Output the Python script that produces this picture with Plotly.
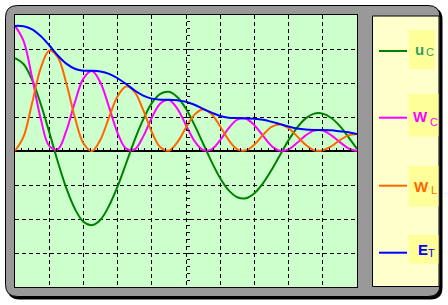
import plotly.graph_objects as go

# ---- data (time axis in grid divisions) ----
t = [0.0, 0.25, 0.5, 0.75, 1.0, 1.25, 1.5, 1.75, 2.0, 2.25, 2.5, 2.75, 3.0, 3.25,
     3.5, 3.75, 4.0, 4.25, 4.5, 4.75, 5.0, 5.25, 5.5, 5.75, 6.0, 6.25, 6.5, 6.75,
     7.0, 7.25, 7.5, 7.75, 8.0, 8.25, 8.5, 8.75, 9.0, 9.25, 9.5, 9.75, 10.0]

u_C = [2.73, 2.56, 2.09, 1.39, 0.56, -0.31, -1.09, -1.70, -2.08, -2.18, -2.02,
       -1.61, -1.04, -0.36, 0.33, 0.93, 1.41, 1.68, 1.74, 1.58, 1.24, 0.76, 0.22,
       -0.32, -0.80, -1.16, -1.36, -1.39, -1.24, -0.95, -0.56, -0.12, 0.32, 0.69,
       0.96, 1.10, 1.10, 0.97, 0.73, 0.41, 0.06]

W_C = [3.68, 3.24, 2.16, 0.96, 0.15, 0.05, 0.59, 1.43, 2.13, 2.35, 2.01, 1.29,
       0.53, 0.07, 0.05, 0.43, 0.98, 1.40, 1.50, 1.24, 0.76, 0.29, 0.03, 0.05,
       0.32, 0.67, 0.92, 0.95, 0.76, 0.45, 0.15, 0.01, 0.05, 0.24, 0.46, 0.60,
       0.60, 0.46, 0.26, 0.08, 0.00]

W_L = [0.00, 0.42, 1.41, 2.43, 2.95, 2.76, 1.99, 0.99, 0.23, 0.00, 0.34, 0.99,
       1.61, 1.90, 1.73, 1.20, 0.56, 0.11, 0.01, 0.26, 0.69, 1.07, 1.22, 1.08,
       0.72, 0.32, 0.05, 0.02, 0.19, 0.47, 0.71, 0.78, 0.67, 0.43, 0.18, 0.02,
       0.02, 0.14, 0.32, 0.46, 0.50]

E_T = [3.68, 3.67, 3.58, 3.38, 3.11, 2.81, 2.57, 2.42, 2.36, 2.36, 2.34, 2.27,
       2.14, 1.97, 1.78, 1.63, 1.54, 1.51, 1.51, 1.49, 1.45, 1.36, 1.24, 1.13,
       1.03, 0.98, 0.97, 0.96, 0.95, 0.92, 0.86, 0.79, 0.72, 0.66, 0.63, 0.62,
       0.62, 0.61, 0.58, 0.55, 0.50]

series = [("u_C", u_C), ("W_C", W_C), ("W_L", W_L), ("E_T", E_T)]
main_labels = ["u", "W", "W", "E"]
sub_labels = ["C", "C", "L", "T"]
colors = ["#008000", "#ff00ff", "#ff6600", "#0000ff"]
text_colors = ["#339966", "#ff00ff", "#ff6600", "#0000ff"]

x_range = [0, 10]
y_range = [-4, 4]

# ---- layout helpers (pixel -> paper) ----
W, H = 448, 305
def X(px):
    return px / W
def Y(py):
    return 1 - py / H

def rrect(x0, y0, x1, y1, r):
    return (f"M{X(x0+r)},{Y(y0)} L{X(x1-r)},{Y(y0)} Q{X(x1)},{Y(y0)} {X(x1)},{Y(y0+r)} "
            f"L{X(x1)},{Y(y1-r)} Q{X(x1)},{Y(y1)} {X(x1-r)},{Y(y1)} "
            f"L{X(x0+r)},{Y(y1)} Q{X(x0)},{Y(y1)} {X(x0)},{Y(y1-r)} "
            f"L{X(x0)},{Y(y0+r)} Q{X(x0)},{Y(y0)} {X(x0+r)},{Y(y0)} Z")

fig = go.Figure()
for (name, vals), col in zip(series, colors):
    fig.add_trace(go.Scatter(x=t, y=vals, mode="lines", name=name,
                             line=dict(color=col, width=2, shape="spline"),
                             hoverinfo="skip", showlegend=False))
# helper trace to materialise the central tick axes
fig.add_trace(go.Scatter(x=[], y=[], xaxis="x2", yaxis="y2", showlegend=False,
                         hoverinfo="skip"))

xdom = [X(15), X(357)]
ydom = [Y(287), Y(15)]

shapes = [
    dict(type="path", xref="paper", yref="paper", path=rrect(7.5, 7.5, 442.5, 299.5, 12),
         fillcolor="black", line=dict(width=0), layer="below"),
    dict(type="path", xref="paper", yref="paper", path=rrect(5.5, 5.5, 440, 296.5, 12),
         fillcolor="#999999", line=dict(color="black", width=1), layer="below"),
    dict(type="rect", xref="x domain", yref="y domain", x0=0, x1=1, y0=0, y1=1,
         fillcolor="#ccffcc", line=dict(width=0), layer="below"),
    dict(type="rect", xref="paper", yref="paper", x0=X(372.5), x1=X(439), y0=Y(286.5), y1=Y(16),
         fillcolor="#ffffcc", line=dict(color="black", width=1), layer="below"),
]

boxes = [(409, 30, 435, 69), (408.5, 94, 438.5, 136.5), (408.5, 166, 438.5, 206.5),
         (408.5, 235, 438.5, 263.5)]
for (bx0, by0, bx1, by1) in boxes:
    shapes.append(dict(type="rect", xref="paper", yref="paper", x0=X(bx0), x1=X(bx1),
                       y0=Y(by1), y1=Y(by0), fillcolor="#ffff99", line=dict(width=0),
                       layer="below"))

line_y = [51, 117.7, 185.7, 252.7]
for ly, col in zip(line_y, colors):
    shapes.append(dict(type="line", xref="paper", yref="paper", x0=X(379), x1=X(407),
                       y0=Y(ly), y1=Y(ly), line=dict(color=col, width=2)))

annotations = []
main_pos = [(412.5, 49.4, 15), (411, 116.5, 15), (411.5, 186.5, 15), (415.5, 249.8, 15)]
sub_pos = [(424, 52.5), (428, 122.2), (428.5, 189.5), (426, 253.2)]
font_fam = "Liberation Sans, Arial, sans-serif"
for i in range(4):
    mx, my, fs = main_pos[i]
    annotations.append(dict(xref="paper", yref="paper", x=X(mx), y=Y(my), xanchor="left",
                            yanchor="middle", showarrow=False,
                            text=f"<b>{main_labels[i]}</b>",
                            font=dict(family=font_fam, size=fs, color=text_colors[i])))
    sx, sy = sub_pos[i]
    annotations.append(dict(xref="paper", yref="paper", x=X(sx), y=Y(sy), xanchor="left",
                            yanchor="middle", showarrow=False, text=sub_labels[i],
                            font=dict(family=font_fam, size=11, color=text_colors[i])))

axis_common = dict(showticklabels=False, ticks="", fixedrange=True)
fig.update_layout(
    width=W, height=H, margin=dict(l=0, r=0, t=0, b=0),
    paper_bgcolor="white", plot_bgcolor="rgba(0,0,0,0)", showlegend=False,
    xaxis=dict(domain=xdom, range=x_range, dtick=1, tick0=0, showgrid=True,
               gridcolor="black", gridwidth=1, griddash="4px,3px",
               zeroline=True, zerolinecolor="black", zerolinewidth=2,
               showline=True, mirror=True, linecolor="black", linewidth=1,
               **axis_common),
    yaxis=dict(domain=ydom, range=y_range, dtick=1, tick0=0, showgrid=True,
               gridcolor="black", gridwidth=1, griddash="4px,3px",
               zeroline=True, zerolinecolor="black", zerolinewidth=2,
               showline=True, mirror=True, linecolor="black", linewidth=1,
               **axis_common),
    xaxis2=dict(overlaying="x", range=x_range, anchor="free",
                position=(ydom[0] + ydom[1]) / 2, side="bottom",
                showgrid=False, zeroline=False, showline=False,
                ticks="inside", ticklen=3, tickwidth=1, tickcolor="black",
                dtick=0.2, tick0=0, showticklabels=False, fixedrange=True),
    yaxis2=dict(overlaying="y", range=y_range, anchor="free",
                position=(xdom[0] + xdom[1]) / 2, side="left",
                showgrid=False, zeroline=False, showline=False,
                ticks="inside", ticklen=3, tickwidth=1, tickcolor="black",
                dtick=0.2, tick0=0, showticklabels=False, fixedrange=True),
    shapes=shapes, annotations=annotations,
)

fig.write_html("out.html")
